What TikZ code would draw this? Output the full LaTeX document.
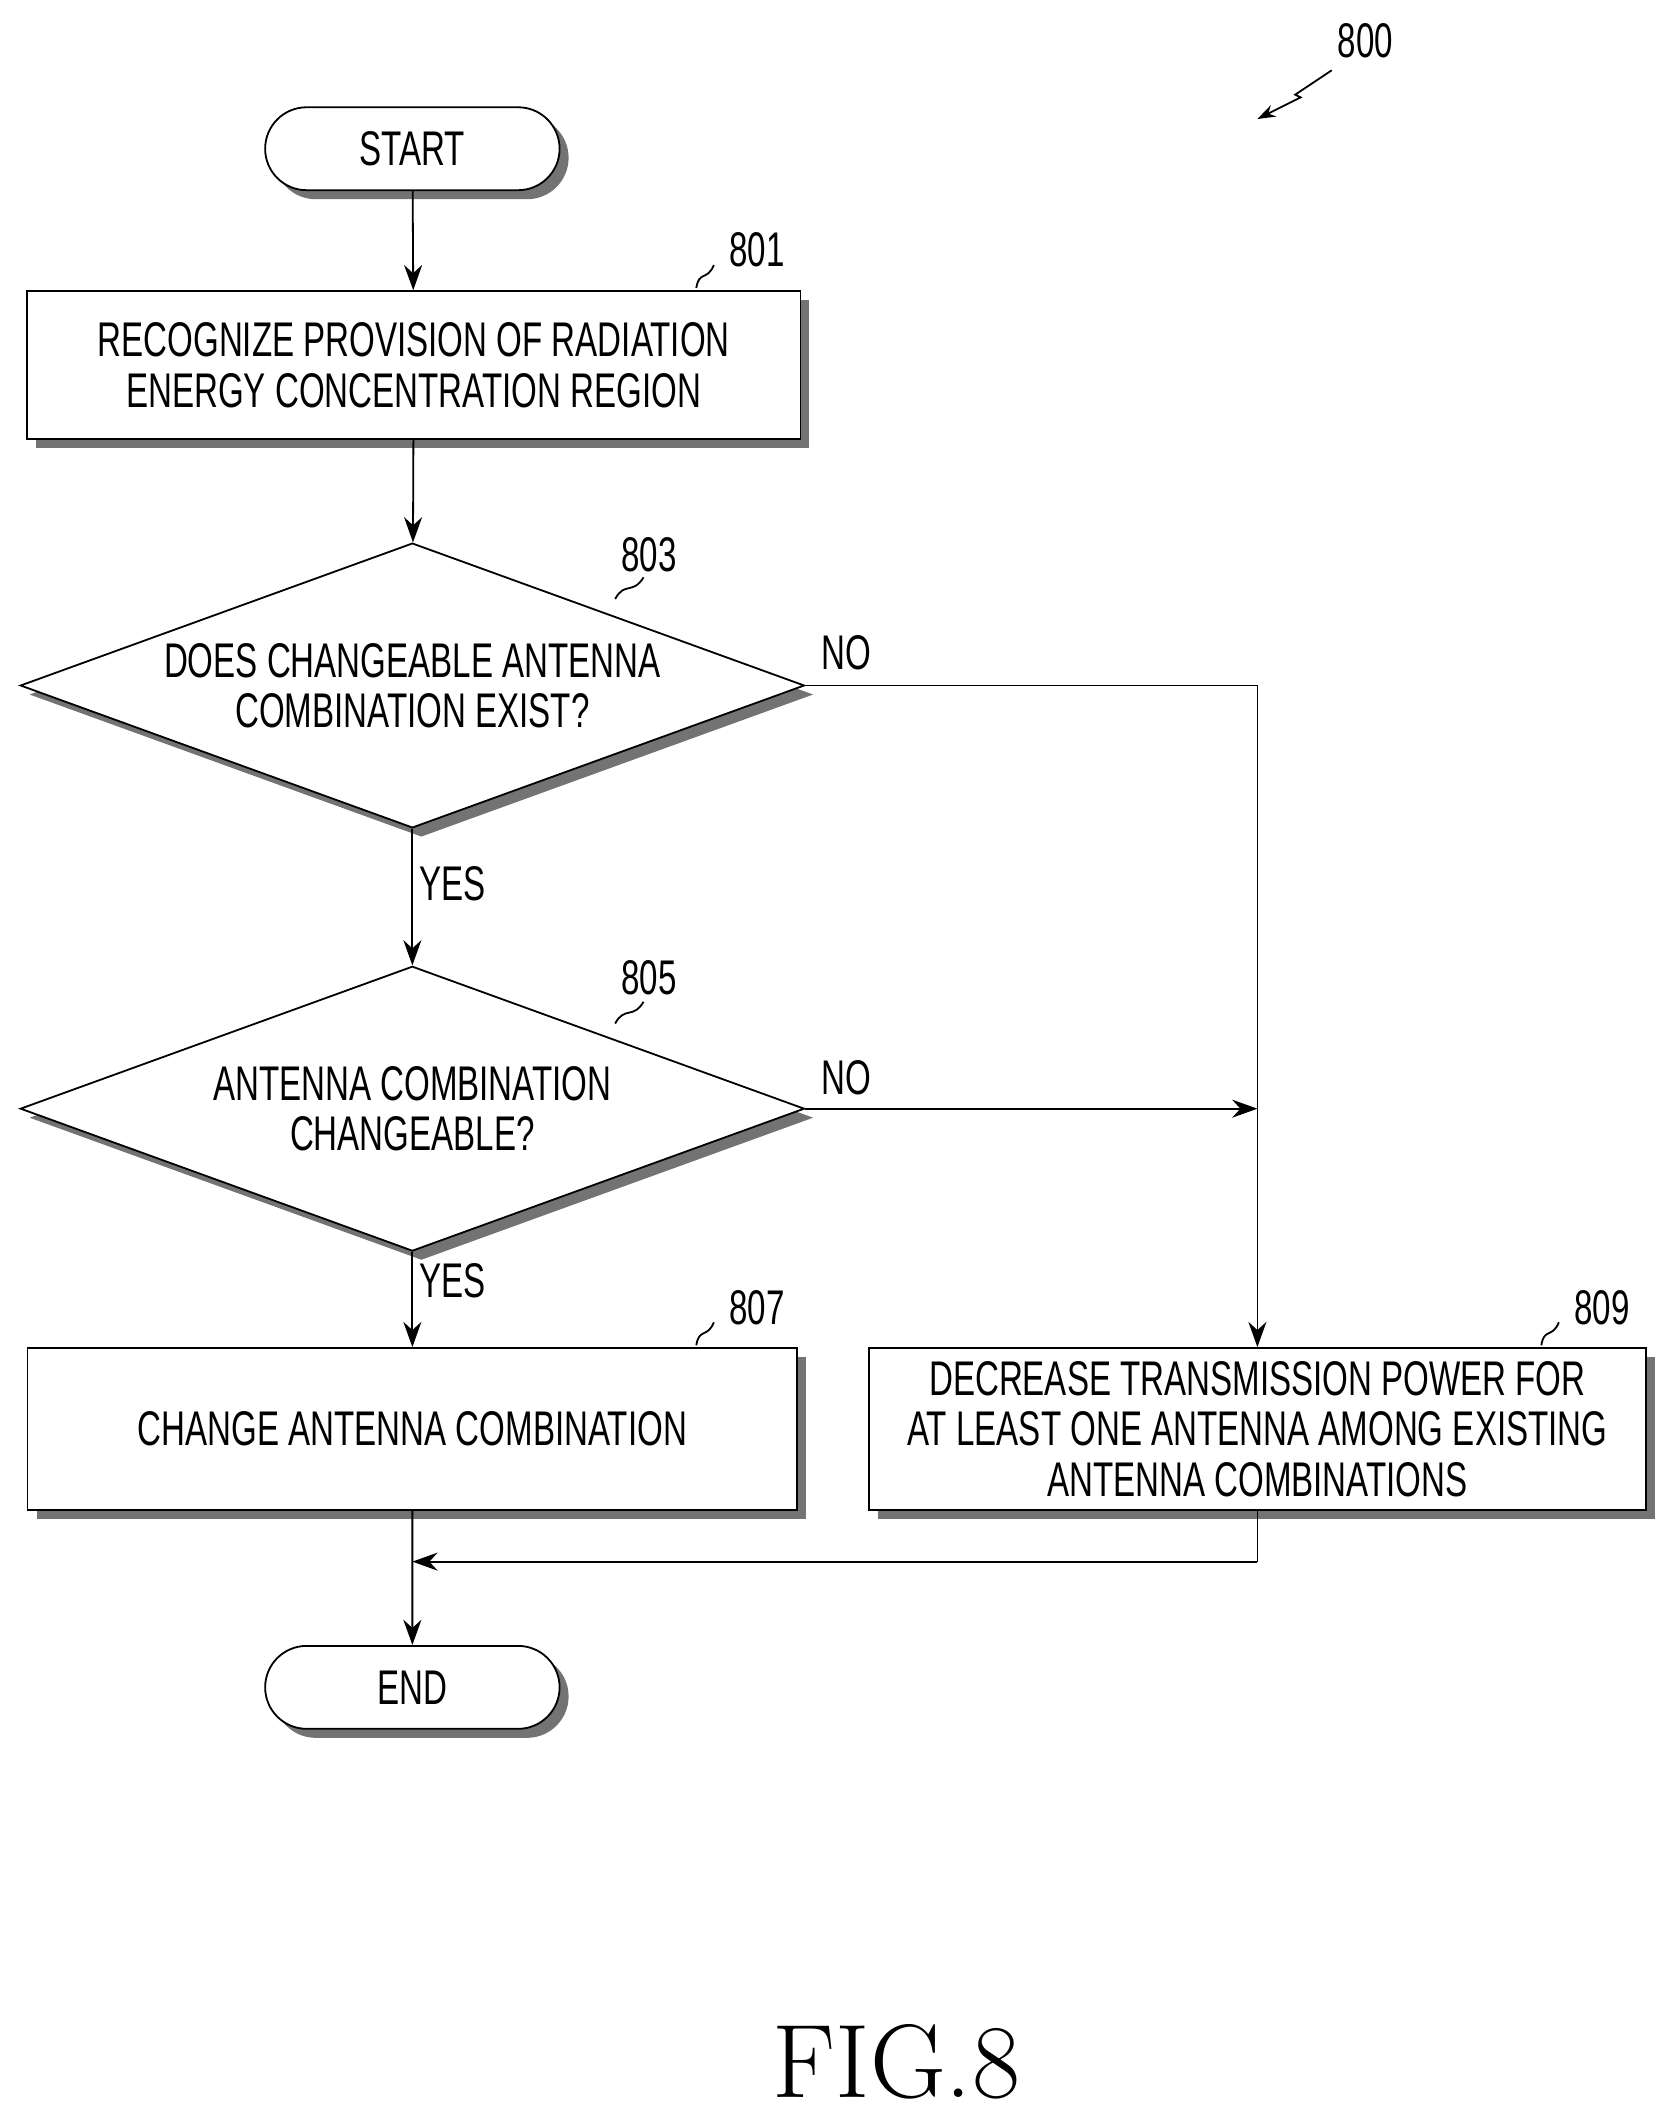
\documentclass[tikz,border=0pt]{standalone}
\usepackage{fontspec}
\newfontfamily\condfont[FakeStretch=0.68]{Liberation Sans}
\usetikzlibrary{shapes.geometric,shadows,arrows.meta}
\tikzset{every picture/.style={line width=1pt}}
\tikzset{
  shade box/.style={draw,fill=white,drop shadow={shadow xshift=5pt,shadow yshift=-5pt,fill=black!55,opacity=1}},
  step box/.style={shade box,rectangle,minimum width=429pt,minimum height=82pt,align=center,font=\condfont\fontsize{27}{28}\selectfont},
  term/.style={shade box,rounded rectangle,minimum width=170pt,minimum height=46pt,font=\condfont\fontsize{27}{28}\selectfont},
  decide/.style={shade box,diamond,aspect=2.76,minimum width=435pt,minimum height=158pt,inner sep=0pt,align=center,font=\condfont\fontsize{27}{28}\selectfont},
  flow/.style={-{Stealth[length=14pt,width=10pt]}},
  tag/.style={font=\condfont\fontsize{27}{28}\selectfont},
}
\usetikzlibrary{shapes.misc}
\begin{document}
\begin{tikzpicture}[x=0.75pt,y=0.75pt,yscale=-1,xscale=1]
\useasboundingbox (0,0) rectangle (1240,1568);

% terminals
\node[term] (start) at (305,110) {START};
\node[term] (end) at (305,1248) {END};

% process boxes
\node[step box] (recog) at (306,270) {RECOGNIZE PROVISION OF RADIATION\\ENERGY CONCENTRATION REGION};
\node[step box,minimum width=427pt,minimum height=90pt] (change) at (305,1057) {CHANGE ANTENNA COMBINATION};
\node[step box,minimum width=431pt,minimum height=90pt] (decrease) at (930,1057) {DECREASE TRANSMISSION POWER FOR\\AT LEAST ONE ANTENNA AMONG EXISTING\\ANTENNA COMBINATIONS};

% decisions
\node[decide] (exist) at (305,507) {DOES CHANGEABLE ANTENNA\\COMBINATION EXIST?};
\node[decide] (able) at (305,820) {ANTENNA COMBINATION\\CHANGEABLE?};

% connectors
\coordinate (c1) at (930,507);
\coordinate (c2) at (930,820);
\coordinate (c3) at (930,1155);
\coordinate (c4) at (305,1155);
\draw[flow] (start) -- (recog);
\draw[flow] (recog) -- (exist);
\draw[flow] (exist) -- node[tag,right,pos=0.4]{YES} (able);
\draw[flow] (able) -- node[tag,right,pos=0.3]{YES} (change);
\draw[flow] (exist.east) -- (c1) -- (decrease.north);
\draw[flow] (able.east) -- (c2);
\draw (decrease.south) -- (c3);
\draw[flow] (c3) -- (c4);
\draw[flow] (change.south) -- (end);
\node[tag] (no1) at (626,483) {NO};
\node[tag] (no2) at (626,797) {NO};

% reference labels
\node[tag] (n801) at (560,185) {801};
\draw (515,213) .. controls (517,200) and (523,208) .. (528,196);
\node[tag] (n803) at (480,410) {803};
\draw (455,443) .. controls (462,430) and (468,440) .. (476,427);
\node[tag] (n805) at (480,723) {805};
\draw (455,757) .. controls (462,744) and (468,754) .. (476,741);
\node[tag] (n807) at (560,967) {807};
\draw (515,995) .. controls (517,982) and (523,990) .. (528,978);
\node[tag] (n809) at (1185,967) {809};
\draw (1140,995) .. controls (1142,982) and (1148,990) .. (1153,978);
\node[tag] (n800) at (1010,30) {800};
\draw[-{Stealth[length=10pt,width=7pt]}] (985,52) -- (958,70) -- (962,72) -- (930,88);

\node[font=\fontsize{58}{60}\selectfont] (fig) at (663,1525) {FIG.8};
\end{tikzpicture}
\end{document}
